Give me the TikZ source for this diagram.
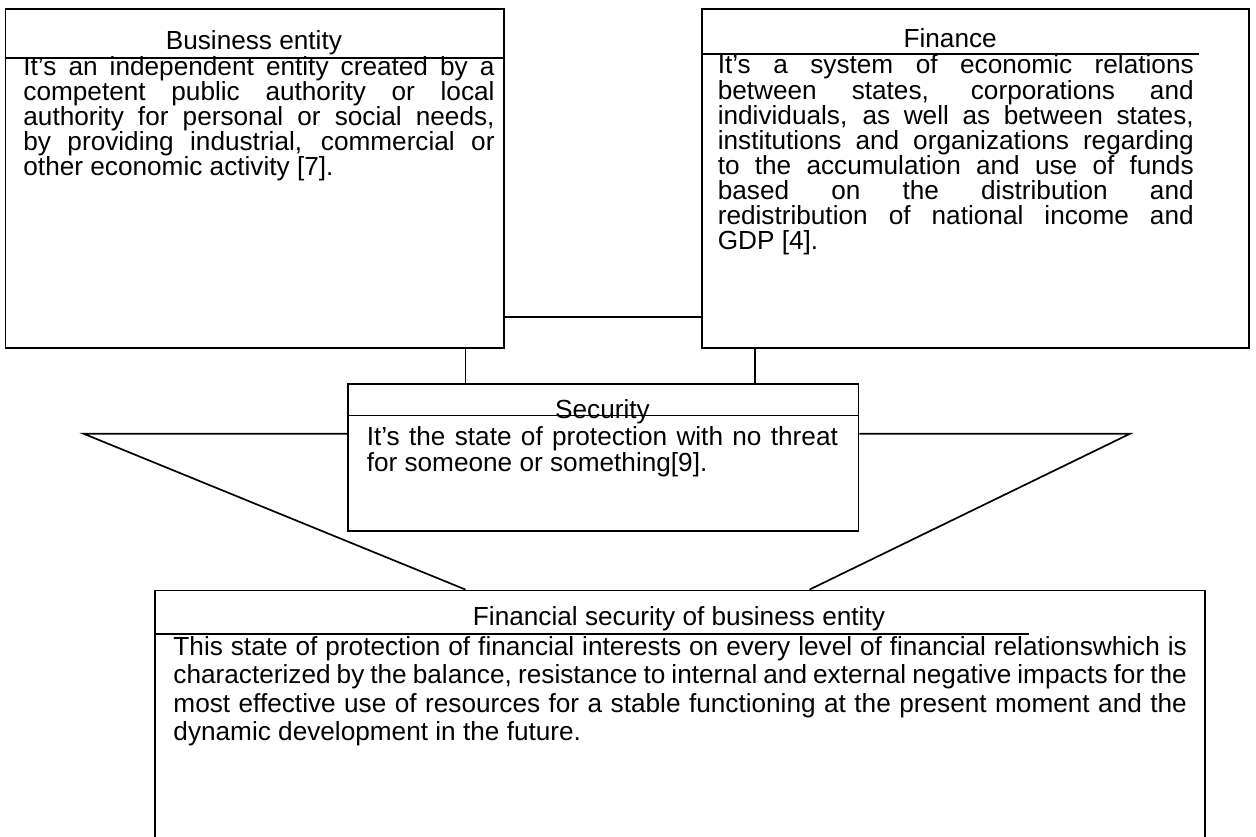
\documentclass[tikz,border=0pt]{standalone}
\usepackage{fontspec}
\setmainfont{Liberation Sans}

\newcommand{\firstrow}{\tolerance=9999 \hbadness=10000 \vrule height 0.8em width 0pt depth 0pt\relax}
\tikzset{
	panel/.style={draw, line width=1pt, anchor=north west, inner sep=0pt},
	divider/.style={line width=1pt},
	heading/.style={anchor=base, inner sep=0pt, font=\fontsize{15.5pt}{15.5pt}\selectfont},
	bodytext/.style={anchor=north west, inner sep=0pt, align=justify,
		font=\fontsize{15.5pt}{14.8pt}\selectfont},
}

\begin{document}
\begin{tikzpicture}[x=0.02cm, y=-0.02cm]
	\useasboundingbox (0,0) rectangle (1306,870.3);
	\clip (0,0) rectangle (1306,870.3);

	\node[panel, minimum width=10.36cm, minimum height=7.05cm] (business) at (5,8.5) {};
	\node[panel, minimum width=11.38cm, minimum height=7.05cm] (finance) at (729,8.5) {};
	\node[panel, minimum width=10.62cm, minimum height=3.05cm] (security) at (361,398.5) {};
	\node[panel, minimum width=21.84cm, minimum height=6cm] (fsbe) at (160,613) {};

	\draw[divider] ([yshift=-1.03cm]business.north west) -- ([yshift=-1.03cm]business.north east);
	\draw[divider] ([yshift=-0.95cm]finance.north west) -- ++(10.36cm,0);
	\draw[divider] ([yshift=-0.67cm]security.north west) -- ([yshift=-0.67cm]security.north east);
	\draw[divider] ([yshift=-0.92cm]fsbe.north west) -- ++(18.2cm,0);

	\node[heading] (businesshead) at (264,51.5) {Business entity};
	\node[heading] (financehead) at (988,49.5) {Finance};
	\node[heading] (securityhead) at (626.5,435) {Security};
	\node[heading] (fsbehead) at (706,650) {Financial security of business entity};

	\node[bodytext, text width=9.8cm] (businesstext) at (24,56.6) {\firstrow
		It’s an independent entity created by a\linebreak
		competent public authority or local\linebreak
		authority for personal or social needs,\linebreak
		by providing industrial, commercial or\linebreak
		other economic activity [7].};
	\node[bodytext, text width=9.9cm] (financetext) at (746,54.8) {\firstrow
		It’s a system of economic relations\linebreak
		between states, corporations and\linebreak
		individuals, as well as between states,\linebreak
		institutions and organizations regarding\linebreak
		to the accumulation and use of funds\linebreak
		based on the distribution and\linebreak
		redistribution of national income and\linebreak
		GDP [4].};
	\node[bodytext, text width=9.8cm, font=\fontsize{15.5pt}{15.4pt}\selectfont]
		(securitytext) at (381,441.1) {\firstrow
		It’s the state of protection with no threat\linebreak
		for someone or something[9].};
	\node[bodytext, text width=21.08cm, font=\fontsize{15.5pt}{16.9pt}\selectfont]
		(fsbetext) at (180,659.1) {\firstrow
		This state of protection of financial interests on every level of financial relationswhich is\linebreak
		characterized by the balance, resistance to internal and external negative impacts for the\linebreak
		most effective use of resources for a stable functioning at the present moment and the\linebreak
		dynamic development in the future.};

	\coordinate (leftfoot) at ([xshift=2.46cm]security.north west);
	\coordinate (rightfoot) at ([xshift=8.48cm]security.north west);
	\coordinate (lefttip) at (87,451);
	\coordinate (righttip) at (1175,451);
	\coordinate (leftend) at ([xshift=6.48cm]fsbe.north west);
	\coordinate (rightend) at ([xshift=13.64cm]fsbe.north west);

	\draw[divider] ([yshift=0.66cm]business.south east) -- ([yshift=0.66cm]business.south east -| finance.west);
	\draw[divider] (leftfoot) -- (leftfoot |- business.south);
	\draw[divider] (rightfoot) -- (rightfoot |- finance.south);
	\draw[divider] (lefttip -| security.west) -- (lefttip) -- (leftend);
	\draw[divider] (righttip -| security.east) -- (righttip) -- (rightend);
\end{tikzpicture}
\end{document}
